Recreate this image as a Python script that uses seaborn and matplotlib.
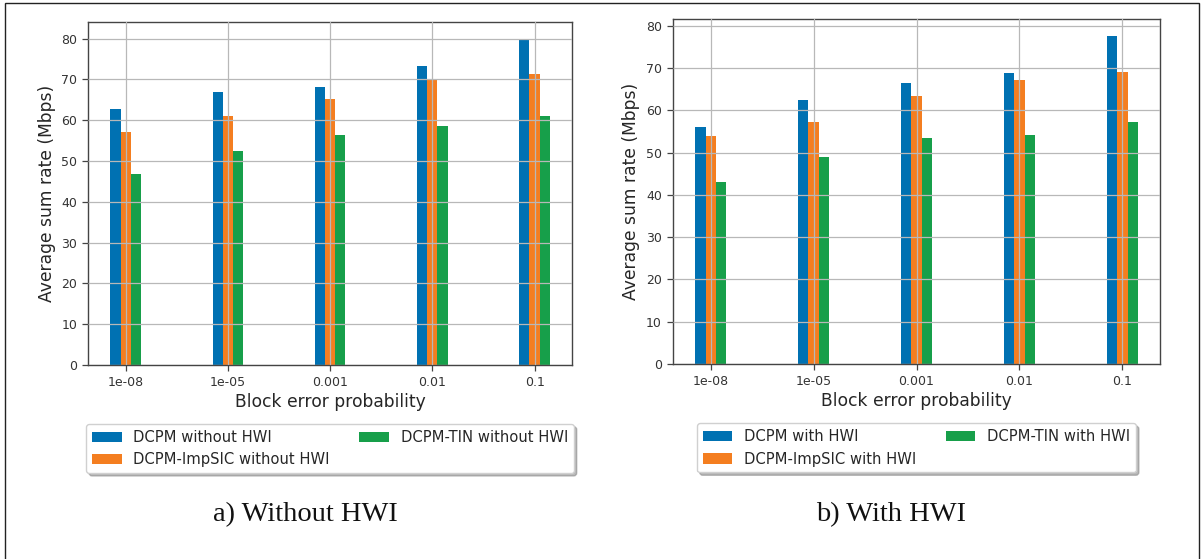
import numpy as np
import pandas as pd
import matplotlib
matplotlib.use("Agg")
import matplotlib.pyplot as plt
import seaborn as sns
from matplotlib.patches import Rectangle

# ---- data ----
bler = ["1e-08", "1e-05", "0.001", "0.01", "0.1"]

dcpm_wo = [62.8, 67.0, 68.2, 73.4, 80.0]
impsic_wo = [57.2, 61.1, 65.3, 70.0, 71.4]
tin_wo = [46.9, 52.5, 56.4, 58.7, 61.1]

dcpm_w = [56.1, 62.3, 66.5, 68.7, 77.6]
impsic_w = [53.8, 57.3, 63.4, 67.2, 69.1]
tin_w = [43.1, 49.0, 53.5, 54.2, 57.1]

labels_wo = ["DCPM without HWI", "DCPM-ImpSIC without HWI", "DCPM-TIN without HWI"]
labels_w = ["DCPM with HWI", "DCPM-ImpSIC with HWI", "DCPM-TIN with HWI"]
captions = ["a) Without HWI", "b) With HWI"]

colors = ["#0071B2", "#F47E20", "#179F4A"]


def long_df(series, labels):
    rows = []
    for vals, lab in zip(series, labels):
        for c, v in zip(bler, vals):
            rows.append({"bler": c, "rate": v, "scheme": lab})
    return pd.DataFrame(rows)


sns.set_style("white")
plt.rcParams["font.family"] = ["DejaVu Sans"]
plt.rcParams["text.color"] = "#262626"
plt.rcParams["axes.labelcolor"] = "#262626"
plt.rcParams["xtick.color"] = "#333333"
plt.rcParams["ytick.color"] = "#333333"

fig = plt.figure(figsize=(12.02, 5.59), dpi=100)
ax1 = fig.add_axes([0.0735, 0.347, 0.4023, 0.613])
ax2 = fig.add_axes([0.560, 0.3488, 0.405, 0.6166])

datasets = [
    (ax1, long_df([dcpm_wo, impsic_wo, tin_wo], labels_wo), labels_wo),
    (ax2, long_df([dcpm_w, impsic_w, tin_w], labels_w), labels_w),
]

for ax, df, labs in datasets:
    sns.barplot(data=df, x="bler", y="rate", hue="scheme", hue_order=labs,
                order=bler, palette=colors, width=0.3, linewidth=0,
                saturation=1, ax=ax, errorbar=None)
    ax.margins(x=0.05, y=0.05)
    ax.set_xlim(auto=True)
    ax.relim()
    ax.autoscale_view()
    ax.set_axisbelow(False)
    ax.grid(True, color="#b8b8b8", linewidth=0.9)
    for s in ax.spines.values():
        s.set_color("#444444")
        s.set_linewidth(1.0)
    ax.tick_params(axis="both", which="both", length=4.5, width=0.9,
                   labelsize=9, bottom=True, left=True, color="#444444")
    ax.set_xlabel("Block error probability", fontsize=12.3, labelpad=3)
    ax.set_ylabel("Average sum rate (Mbps)", fontsize=12.3, labelpad=4)
    ax.set_yticks(np.arange(0, 81, 10))
    leg = ax.legend(loc="upper center", bbox_to_anchor=(0.5, -0.172),
                    borderaxespad=0, ncol=2, fontsize=10.6,
                    shadow={"color": "0.55", "alpha": 0.6},
                    frameon=True, fancybox=True, framealpha=1.0,
                    edgecolor="#d0d0d0")

fig.text(0.254, 0.08, captions[0], family="Liberation Serif", fontsize=20.5,
         ha="center", va="center", color="#111111")
fig.text(0.741, 0.08, captions[1], family="Liberation Serif", fontsize=20.5,
         ha="center", va="center", color="#111111")

fig.add_artist(Rectangle((5 / 1202, -0.05), 1194 / 1202, 1.05 - 2.5 / 559,
                         transform=fig.transFigure, fill=False,
                         edgecolor="#222222", linewidth=1.0))

fig.savefig("out.png", dpi=100)
